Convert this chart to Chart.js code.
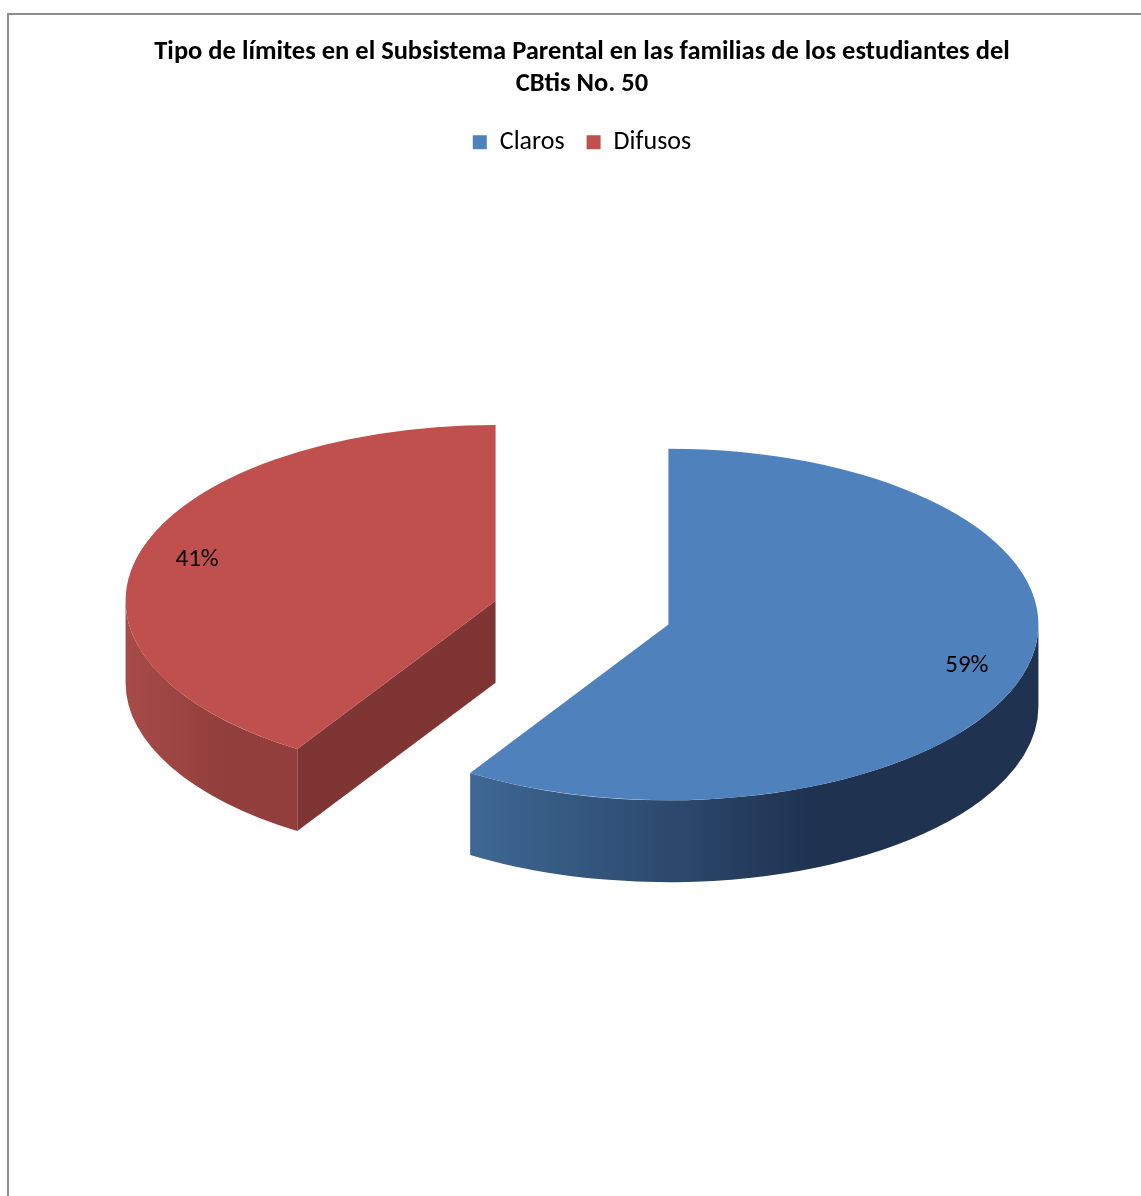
<!DOCTYPE html>
<html>
<head>
<meta charset="utf-8">
<title>Tipo de límites en el Subsistema Parental</title>
<script src="https://cdn.jsdelivr.net/npm/chart.js@4.4.0/dist/chart.umd.min.js"></script>
<style>
    html, body { margin: 0; padding: 0; background: #fff; }
    .chart-frame {
        position: absolute;
        left: 7px;
        top: 13px;
        width: 1134px;
        height: 1183px;
        box-sizing: border-box;
        border-top: 2px solid #8c8c8c;
        border-left: 2px solid #8c8c8c;
    }
    canvas { display: block; }
</style>
</head>
<body>
<div class="chart-frame">
    <canvas id="limitsChart" width="1132" height="1181"></canvas>
</div>
<script>
const categories = ['Claros', 'Difusos'];
const percentages = [59, 41];

// per-slice colours: top face, outer wall (light end / dark end), cut face
const topColors = ['#4f81bd', '#c0504d'];
const wallLight = ['#3e6894', '#a74b48'];
const wallDark = ['#1f3351', '#913e3c'];
const cutColors = ['#1f3351', '#7f3533'];

const FONT = 'Carlito, Lato, "Open Sans", sans-serif';
const TILT = 0.475;     // vertical squash of the disc
const DEPTH = 82;       // disc thickness, px
const EXPLODE = 90;     // how far each slice is pulled out
const LABEL_POS = 0.84; // label distance as a fraction of the radius

// Draws the pie as an exploded, tilted 3D disc.
const pie3d = {
    id: 'pie3d',
    beforeDatasetsDraw(chart) {
        const ctx = chart.ctx;
        const meta = chart.getDatasetMeta(0);
        const total = percentages.reduce((a, b) => a + b, 0);

        const slices = meta.data.map((arc, i) => {
            const p = arc.getProps(['x', 'y', 'startAngle', 'endAngle', 'outerRadius'], true);
            const mid = (p.startAngle + p.endAngle) / 2;
            return {
                arc, i, p, mid,
                cx: p.x + Math.cos(mid) * EXPLODE,
                cy: p.y + Math.sin(mid) * EXPLODE * TILT,
                rx: p.outerRadius,
                ry: p.outerRadius * TILT
            };
        });
        // back slices first
        slices.sort((a, b) => Math.sin(a.mid) - Math.sin(b.mid));

        slices.forEach(s => {
            const {arc, i, p, cx, cy, rx, ry} = s;

            // outer wall, only the part facing the viewer
            for (let k = -1; k <= 1; k++) {
                const lo = Math.max(p.startAngle, 2 * Math.PI * k);
                const hi = Math.min(p.endAngle, 2 * Math.PI * k + Math.PI);
                if (hi <= lo) continue;
                const x1 = cx + rx * Math.cos(hi);
                const x2 = cx + rx * Math.cos(lo);
                const g = ctx.createLinearGradient(Math.min(x1, x2), 0, Math.max(x1, x2), 0);
                g.addColorStop(0, wallLight[i]);
                g.addColorStop(0.6, wallDark[i]);
                g.addColorStop(1, wallDark[i]);
                ctx.beginPath();
                ctx.ellipse(cx, cy, rx, ry, 0, lo, hi);
                ctx.ellipse(cx, cy + DEPTH, rx, ry, 0, hi, lo, true);
                ctx.closePath();
                ctx.fillStyle = g;
                ctx.fill();
            }

            // radial cut faces
            [[p.startAngle, -1], [p.endAngle, 1]].forEach(([a, side]) => {
                if (side * Math.cos(a) <= 0.001) return;
                const ex = cx + rx * Math.cos(a);
                const ey = cy + ry * Math.sin(a);
                ctx.beginPath();
                ctx.moveTo(cx, cy);
                ctx.lineTo(ex, ey);
                ctx.lineTo(ex, ey + DEPTH);
                ctx.lineTo(cx, cy + DEPTH);
                ctx.closePath();
                ctx.fillStyle = cutColors[i];
                ctx.fill();
            });

            // top face: the library's own arc, squashed into an ellipse
            ctx.save();
            ctx.translate(cx, cy);
            ctx.scale(1, TILT);
            ctx.translate(-p.x, -p.y);
            arc.draw(ctx);
            ctx.restore();
        });

        // percentage labels
        ctx.save();
        ctx.fillStyle = '#000';
        ctx.font = '25px ' + FONT;
        ctx.textAlign = 'center';
        ctx.textBaseline = 'middle';
        slices.forEach(s => {
            const v = percentages[s.i];
            const lx = s.cx + Math.cos(s.mid) * s.rx * LABEL_POS;
            const ly = s.cy + Math.sin(s.mid) * s.ry * LABEL_POS;
            ctx.fillText(Math.round(v / total * 100) + '%', lx, ly);
        });
        ctx.restore();

        return false;
    }
};

new Chart(document.getElementById('limitsChart'), {
    type: 'pie',
    data: {
        labels: categories,
        datasets: [{
            data: percentages,
            backgroundColor: topColors,
            borderWidth: 0,
            radius: 370
        }]
    },
    options: {
        responsive: false,
        animation: false,
        events: [],
        layout: {
            padding: { left: 14, right: 0, top: 0, bottom: 136 }
        },
        plugins: {
            title: {
                display: true,
                text: ['Tipo de límites en el Subsistema Parental en las familias de los estudiantes del', 'CBtis No. 50'],
                color: '#000',
                font: { family: FONT, size: 26.5, weight: 'bold', lineHeight: 1.21 },
                padding: { top: 21, bottom: 7 }
            },
            legend: {
                position: 'top',
                labels: {
                    boxWidth: 14,
                    boxHeight: 14,
                    color: '#000',
                    font: { family: FONT, size: 26 },
                    padding: 22
                }
            },
            tooltip: { enabled: false }
        }
    },
    plugins: [pie3d]
});
</script>
</body>
</html>
